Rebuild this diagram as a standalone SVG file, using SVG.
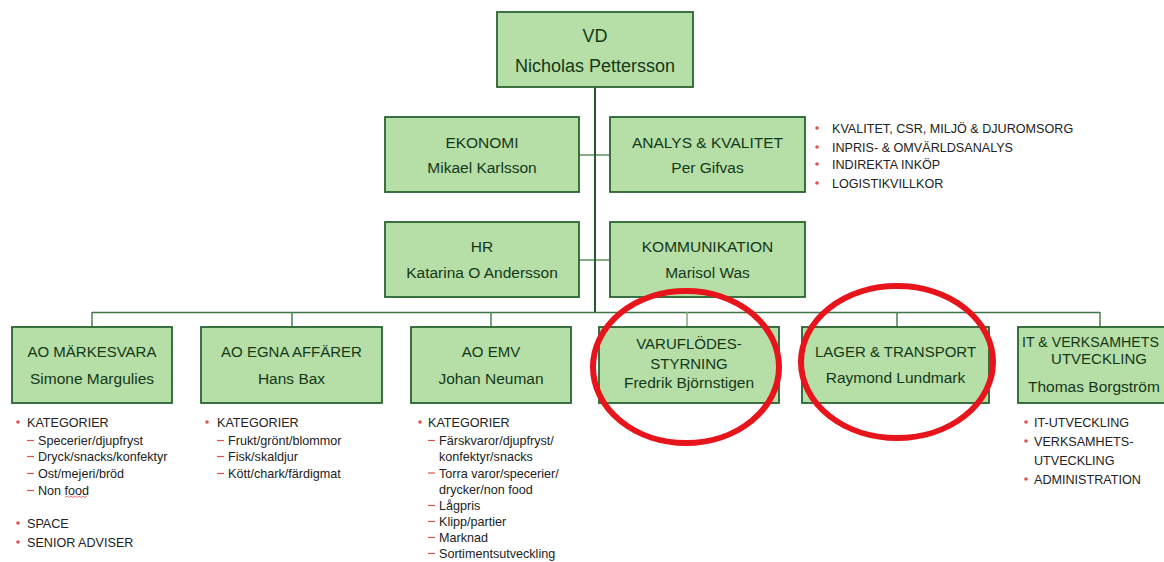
<svg xmlns="http://www.w3.org/2000/svg" width="1164" height="562" viewBox="0 0 1164 562">
<defs>
<style>
.box{fill:#b6dea7;stroke:#2a6331;stroke-width:1.8}
.bt{font-family:"Liberation Sans",Arial,sans-serif;fill:#143818;text-anchor:middle}
.lt{font-family:"Liberation Sans",Arial,sans-serif;fill:#222222;font-size:12.6px}
.trunk{stroke:#1f5a27;stroke-width:2;fill:none}
.side{stroke:#86ad88;stroke-width:2;fill:none}
.bus{stroke:#3d7644;stroke-width:1.5;fill:none}
.drop{stroke:#4a8250;stroke-width:1.5;fill:none}
.dot{fill:#e0514f}
.dash{stroke:#e0514f;stroke-width:1.2}
.ring{fill:none;stroke:#e8141b;stroke-width:6}
</style>
</defs>
<rect width="1164" height="562" fill="#ffffff"/>

<g id="connectors">
<line class="side" x1="579" y1="155" x2="610" y2="155"/>
<line class="side" x1="579" y1="260" x2="610" y2="260"/>
<line class="trunk" x1="595" y1="87" x2="595" y2="313"/>
<line class="bus" x1="92" y1="312.5" x2="1100" y2="312.5"/>
<line class="drop" x1="92" y1="312" x2="92" y2="327"/>
<line class="drop" x1="292" y1="312" x2="292" y2="327"/>
<line class="drop" x1="491" y1="312" x2="491" y2="327"/>
<line class="drop" x1="687" y1="312" x2="687" y2="327" style="stroke:#7ea983"/>
<line class="drop" x1="897" y1="312" x2="897" y2="327"/>
<line class="drop" x1="1100" y1="312" x2="1100" y2="327"/>
</g>

<g id="vd">
<rect class="box" x="497" y="12" width="196" height="75"/>
<text class="bt" x="595" y="42" font-size="18">VD</text>
<text class="bt" x="595" y="72" font-size="18">Nicholas Pettersson</text>
</g>

<g id="ekonomi">
<rect class="box" x="385" y="117" width="194" height="75"/>
<text class="bt" x="482" y="148" font-size="15.5">EKONOMI</text>
<text class="bt" x="482" y="173" font-size="15.5">Mikael Karlsson</text>
</g>

<g id="analys">
<rect class="box" x="610" y="117" width="195" height="75"/>
<text class="bt" x="707.5" y="148" font-size="15.5">ANALYS &amp; KVALITET</text>
<text class="bt" x="707.5" y="173" font-size="15.5">Per Gifvas</text>
</g>

<g id="analys-list">
<circle class="dot" cx="817" cy="128" r="1.8"/>
<text class="lt" x="832" y="133">KVALITET, CSR, MILJÖ &amp; DJUROMSORG</text>
<circle class="dot" cx="817" cy="147" r="1.8"/>
<text class="lt" x="832" y="152">INPRIS- &amp; OMVÄRLDSANALYS</text>
<circle class="dot" cx="817" cy="164" r="1.8"/>
<text class="lt" x="832" y="169">INDIREKTA INKÖP</text>
<circle class="dot" cx="817" cy="183" r="1.8"/>
<text class="lt" x="832" y="188">LOGISTIKVILLKOR</text>
</g>

<g id="hr">
<rect class="box" x="385" y="222" width="194" height="75"/>
<text class="bt" x="482" y="252" font-size="15.5">HR</text>
<text class="bt" x="482" y="278" font-size="15.5">Katarina O Andersson</text>
</g>

<g id="kommunikation">
<rect class="box" x="610" y="222" width="195" height="75"/>
<text class="bt" x="707.5" y="252" font-size="15.5">KOMMUNIKATION</text>
<text class="bt" x="707.5" y="278" font-size="15.5">Marisol Was</text>
</g>

<g id="ao-markesvara">
<rect class="box" x="12" y="327" width="160" height="76"/>
<text class="bt" x="92" y="357" font-size="15">AO MÄRKESVARA</text>
<text class="bt" x="92" y="384" font-size="15.5">Simone Margulies</text>
</g>

<g id="ao-egna">
<rect class="box" x="201" y="327" width="181" height="76"/>
<text class="bt" x="291.5" y="357" font-size="15">AO EGNA AFFÄRER</text>
<text class="bt" x="291.5" y="384" font-size="15.5">Hans Bax</text>
</g>

<g id="ao-emv">
<rect class="box" x="411" y="327" width="160" height="76"/>
<text class="bt" x="491" y="357" font-size="15">AO EMV</text>
<text class="bt" x="491" y="384" font-size="15.5">Johan Neuman</text>
</g>

<g id="varufloden">
<rect class="box" x="599" y="327" width="180" height="76"/>
<text class="bt" x="689" y="349" font-size="15">VARUFLÖDES-</text>
<text class="bt" x="689" y="368.5" font-size="15">STYRNING</text>
<text class="bt" x="689" y="388" font-size="15.5">Fredrik Björnstigen</text>
</g>

<g id="lager">
<rect class="box" x="802" y="327" width="187" height="76"/>
<text class="bt" x="895.5" y="357" font-size="15">LAGER &amp; TRANSPORT</text>
<text class="bt" x="895.5" y="383" font-size="15.5">Raymond Lundmark</text>
</g>

<g id="it">
<rect class="box" x="1018" y="327" width="164" height="76"/>
<text class="bt" x="1022" y="347" font-size="14.2" style="text-anchor:start">IT &amp; VERKSAMHETS</text>
<text class="bt" x="1099" y="364" font-size="15">UTVECKLING</text>
<text class="bt" x="1028" y="392" font-size="15.5" style="text-anchor:start">Thomas Borgström</text>
</g>

<g id="list-markesvara">
<circle class="dot" cx="18" cy="422" r="1.8"/>
<text class="lt" x="27" y="427">KATEGORIER</text>
<line class="dash" x1="27" y1="440.5" x2="34" y2="440.5"/>
<text class="lt" x="38" y="445">Specerier/djupfryst</text>
<line class="dash" x1="27" y1="456.5" x2="34" y2="456.5"/>
<text class="lt" x="38" y="461">Dryck/snacks/konfektyr</text>
<line class="dash" x1="27" y1="473.5" x2="34" y2="473.5"/>
<text class="lt" x="38" y="478">Ost/mejeri/bröd</text>
<line class="dash" x1="27" y1="490.5" x2="34" y2="490.5"/>
<text class="lt" x="38" y="495">Non food</text>
<path d="M65 497.5 l2 -1.5 l2 1.5 l2 -1.5 l2 1.5 l2 -1.5 l2 1.5 l2 -1.5 l2 1.5 l2 -1.5 l2 1.5 l2 -1.5" fill="none" stroke="#e0514f" stroke-width="0.8"/>
<circle class="dot" cx="18" cy="523" r="1.8"/>
<text class="lt" x="27" y="528">SPACE</text>
<circle class="dot" cx="18" cy="542" r="1.8"/>
<text class="lt" x="27" y="547">SENIOR ADVISER</text>
</g>

<g id="list-egna">
<circle class="dot" cx="207" cy="422" r="1.8"/>
<text class="lt" x="217" y="427">KATEGORIER</text>
<line class="dash" x1="217" y1="440.5" x2="224" y2="440.5"/>
<text class="lt" x="228" y="445">Frukt/grönt/blommor</text>
<line class="dash" x1="217" y1="456.5" x2="224" y2="456.5"/>
<text class="lt" x="228" y="461">Fisk/skaldjur</text>
<line class="dash" x1="217" y1="473.5" x2="224" y2="473.5"/>
<text class="lt" x="228" y="478">Kött/chark/färdigmat</text>
</g>

<g id="list-emv">
<circle class="dot" cx="420" cy="422" r="1.8"/>
<text class="lt" x="428" y="427">KATEGORIER</text>
<line class="dash" x1="428" y1="440.5" x2="435" y2="440.5"/>
<text class="lt" x="439" y="445">Färskvaror/djupfryst/</text>
<text class="lt" x="439" y="461">konfektyr/snacks</text>
<line class="dash" x1="428" y1="473" x2="435" y2="473"/>
<text class="lt" x="439" y="477.5">Torra varor/specerier/</text>
<text class="lt" x="439" y="493.5">drycker/non food</text>
<line class="dash" x1="428" y1="505.5" x2="435" y2="505.5"/>
<text class="lt" x="439" y="510">Lågpris</text>
<line class="dash" x1="428" y1="521.5" x2="435" y2="521.5"/>
<text class="lt" x="439" y="526">Klipp/partier</text>
<line class="dash" x1="428" y1="537.5" x2="435" y2="537.5"/>
<text class="lt" x="439" y="542">Marknad</text>
<line class="dash" x1="428" y1="553.5" x2="435" y2="553.5"/>
<text class="lt" x="439" y="558">Sortimentsutveckling</text>
</g>

<g id="list-it">
<circle class="dot" cx="1026" cy="422" r="1.8"/>
<text class="lt" x="1034" y="427">IT-UTVECKLING</text>
<circle class="dot" cx="1026" cy="441" r="1.8"/>
<text class="lt" x="1034" y="446">VERKSAMHETS-</text>
<text class="lt" x="1034" y="465">UTVECKLING</text>
<circle class="dot" cx="1026" cy="479" r="1.8"/>
<text class="lt" x="1034" y="484">ADMINISTRATION</text>
</g>

<g id="highlights">
<ellipse class="ring" cx="686" cy="367" rx="93" ry="76"/>
<ellipse class="ring" cx="897" cy="362" rx="96" ry="76"/>
</g>
</svg>
